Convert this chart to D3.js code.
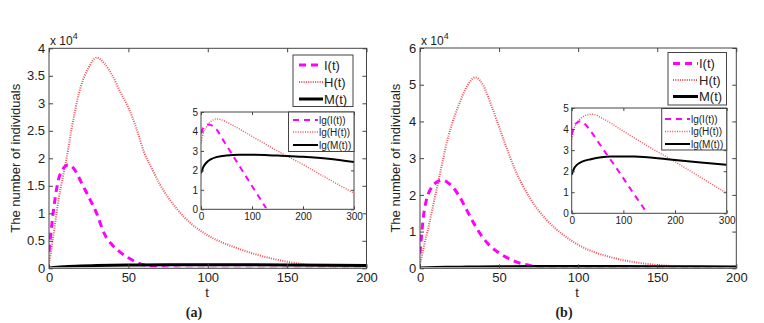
<!DOCTYPE html>
<html>
<head>
<meta charset="utf-8">
<script src="https://cdnjs.cloudflare.com/ajax/libs/d3/7.8.5/d3.min.js"></script>
<style>
  body { margin: 0; background: #fff; }
  svg text { font-family: "Liberation Sans", Arial, sans-serif; fill: #222; }
</style>
</head>
<body>
<svg id="chart" width="764" height="323"></svg>
<script>
/* ---------------------------- Data (x 10^4) ---------------------------- */
const tMain = [0, 1, 2, 3, 4, 5, 6, 8, 10, 12, 14, 16, 18, 20, 25, 30, 35, 40, 45, 50, 55, 60, 65, 70, 80, 90, 100, 120, 140, 160, 180, 200];
const tM = [0, 5, 10, 20, 30, 50, 75, 100, 150, 200];

// panel (a)
const iA = [0.3, 0.6, 0.85, 1.1, 1.3, 1.48, 1.62, 1.76, 1.85, 1.88, 1.86, 1.8, 1.7, 1.58, 1.3, 1.0, 0.62, 0.42, 0.29, 0.19, 0.11, 0.06, 0.03, 0.015, 0.004, 0.001, 0, 0, 0, 0, 0, 0];
const hA = [0.1, 0.25, 0.45, 0.65, 0.85, 1.05, 1.25, 1.55, 1.85, 2.15, 2.5, 2.8, 3.08, 3.3, 3.65, 3.83, 3.72, 3.5, 3.2, 2.92, 2.55, 2.1, 1.8, 1.52, 1.1, 0.8, 0.6, 0.35, 0.18, 0.075, 0.03, 0.01];
const mA = [0.007, 0.021, 0.03, 0.042, 0.05, 0.06, 0.063, 0.064, 0.06, 0.052];

// panel (b)
const iB = [0.4, 0.9, 1.35, 1.65, 1.85, 2.0, 2.1, 2.25, 2.33, 2.38, 2.4, 2.38, 2.32, 2.25, 1.95, 1.55, 1.15, 0.82, 0.58, 0.42, 0.29, 0.19, 0.12, 0.07, 0.025, 0.008, 0.002, 0, 0, 0, 0, 0];
const hB = [0.1, 0.3, 0.5, 0.7, 0.88, 1.05, 1.25, 1.65, 2.05, 2.45, 2.85, 3.25, 3.6, 3.9, 4.5, 4.98, 5.2, 4.98, 4.45, 3.85, 3.25, 2.7, 2.25, 1.88, 1.32, 0.93, 0.64, 0.31, 0.14, 0.06, 0.025, 0.01];
const mB = [0.007, 0.015, 0.02, 0.028, 0.034, 0.043, 0.05, 0.05, 0.045, 0.038];

// insets: lg of each series
const tLgIA = [0, 3, 6, 10, 15, 20, 25, 30, 40, 60, 80, 100, 120, 129];
const lgIA = [3.9, 4.12, 4.25, 4.32, 4.36, 4.33, 4.24, 4.12, 3.7, 2.87, 2.03, 1.2, 0.37, 0];
const tLgH = [0, 5, 10, 15, 20, 30, 40, 60, 100, 150, 200, 250, 300];
const lgHA = [3.4, 3.95, 4.2, 4.4, 4.52, 4.65, 4.6, 4.35, 3.75, 3.0, 2.3, 1.55, 0.83];
const tLgMA = [0, 5, 10, 20, 30, 50, 75, 100, 125, 150, 200, 250, 300];
const lgMA = [1.85, 2.2, 2.38, 2.58, 2.68, 2.77, 2.8, 2.8, 2.79, 2.76, 2.7, 2.6, 2.43];

const tLgIB = [0, 5, 10, 17, 25, 37, 60, 88, 120, 143];
const lgIB = [3.73, 4.15, 4.3, 4.37, 4.25, 3.89, 3.07, 2.1, 0.93, 0.12];
const lgHB = [3.5, 4.05, 4.28, 4.45, 4.55, 4.68, 4.7, 4.5, 3.9, 3.15, 2.45, 1.7, 0.95];
const tLgMB = [0, 5, 10, 20, 37, 75, 121, 185, 250, 300];
const lgMB = [1.83, 2.15, 2.3, 2.45, 2.57, 2.7, 2.7, 2.57, 2.41, 2.3];

const xTicksMain = [0, 50, 100, 150, 200];
const yTicksA = [0, 0.5, 1, 1.5, 2, 2.5, 3, 3.5, 4];
const yTicksB = [0, 1, 2, 3, 4, 5, 6];
const xTicksInset = [0, 100, 200, 300];
const yTicksInset = [0, 1, 2, 3, 4, 5];
const mainNames = ['I(t)', 'H(t)', 'M(t)'];
const insetNames = ['lg(I(t))', 'lg(H(t))', 'lg(M(t))'];

/* ---------------------------- Styles ---------------------------- */
const styleI = { stroke: '#ff00ff', width: 3, dash: '7,5' };
const styleH = { stroke: '#f0505a', width: 2, dash: '1,1.3' };
const styleM = { stroke: '#000', width: 3, dash: null };
const insetI = { stroke: '#ff00ff', width: 2, dash: '6,5' };
const insetH = { stroke: '#f0505a', width: 1.4, dash: '1,1.4' };
const insetM = { stroke: '#000', width: 2, dash: null };

const svg = d3.select('#chart');
const defs = svg.append('defs');
let clipId = 0;
const fmt = d => String(d);

function addAxes(g, x, y, xt, yt, box, fontSize, tick) {
    const style = sel => {
        sel.select('.domain').remove();
        sel.selectAll('line').attr('stroke', '#444');
        sel.selectAll('text').style('font-size', fontSize + 'px').attr('fill', '#222');
    };
    g.append('g').attr('transform', `translate(0,${box.bottom})`)
        .call(d3.axisBottom(x).tickValues(xt).tickFormat(fmt).tickSizeInner(-tick).tickSizeOuter(0).tickPadding(fontSize * 0.35)).call(style);
    g.append('g').attr('transform', `translate(0,${box.top})`)
        .call(d3.axisTop(x).tickValues(xt).tickSizeInner(-tick).tickSizeOuter(0).tickFormat('')).call(style);
    g.append('g').attr('transform', `translate(${box.left},0)`)
        .call(d3.axisLeft(y).tickValues(yt).tickFormat(fmt).tickSizeInner(-tick).tickSizeOuter(0).tickPadding(fontSize * 0.3)).call(style);
    g.append('g').attr('transform', `translate(${box.right},0)`)
        .call(d3.axisRight(y).tickValues(yt).tickSizeInner(-tick).tickSizeOuter(0).tickFormat('')).call(style);
    g.append('rect')
        .attr('x', box.left).attr('y', box.top)
        .attr('width', box.right - box.left).attr('height', box.bottom - box.top)
        .attr('fill', 'none').attr('stroke', '#444').attr('stroke-width', 1);
}

function drawCurves(g, x, y, box, list) {
    const id = 'clip' + (clipId++);
    defs.append('clipPath').attr('id', id).append('rect')
        .attr('x', box.left).attr('y', box.top - 2)
        .attr('width', box.right - box.left).attr('height', box.bottom - box.top + 1);
    const cg = g.append('g').attr('clip-path', `url(#${id})`);
    list.forEach(s => {
        const line = d3.line()
            .x((d, i) => x(s.t[i]))
            .y(d => y(d))
            .curve(d3.curveMonotoneX);
        cg.append('path')
            .attr('d', line(s.v))
            .attr('fill', 'none')
            .attr('stroke', s.style.stroke)
            .attr('stroke-width', s.style.width)
            .attr('stroke-dasharray', s.style.dash);
    });
}

function drawLegend(g, lg) {
    g.append('rect')
        .attr('x', lg.left).attr('y', lg.top)
        .attr('width', lg.right - lg.left).attr('height', lg.bottom - lg.top)
        .attr('fill', '#fff').attr('stroke', '#444');
    lg.items.forEach((it, i) => {
        const yy = lg.rows[i];
        g.append('line')
            .attr('x1', lg.lineX[0]).attr('x2', lg.lineX[1])
            .attr('y1', yy).attr('y2', yy)
            .attr('stroke', it.style.stroke)
            .attr('stroke-width', it.style.width)
            .attr('stroke-dasharray', it.style.dash);
        g.append('text')
            .attr('x', lg.lineX[1] + 1).attr('y', yy)
            .attr('dy', '0.35em')
            .style('font-size', lg.font + 'px')
            .text(it.name);
    });
}

function drawPanel(p) {
    const g = svg.append('g');
    const box = p.main;
    const x = d3.scaleLinear().domain([0, 200]).range([box.left, box.right]);
    const y = d3.scaleLinear().domain([0, p.yMax]).range([box.bottom, box.top]);

    drawCurves(g, x, y, box, [
        { t: tMain, v: p.H, style: styleH },
        { t: tMain, v: p.I, style: styleI },
        { t: tM, v: p.M, style: styleM }
    ]);
    addAxes(g, x, y, xTicksMain, p.yTicks, box, 13, 4);

    // x 10^4 multiplier
    const mult = g.append('text').attr('x', box.left + 1).attr('y', box.top - 3).style('font-size', '12px');
    mult.append('tspan').text('x 10');
    mult.append('tspan').attr('dy', -6).style('font-size', '9px').text('4');

    g.append('text')
        .attr('transform', `translate(${p.yTitleX},${(box.top + box.bottom) / 2}) rotate(-90)`)
        .attr('text-anchor', 'middle')
        .style('font-size', '13px')
        .text('The number of individuals');
    g.append('text')
        .attr('x', p.tX).attr('y', 297)
        .attr('text-anchor', 'middle')
        .style('font-size', '13px')
        .text('t');
    g.append('text')
        .attr('x', p.tX - 13).attr('y', 317)
        .attr('text-anchor', 'middle')
        .style('font-size', '14px')
        .style('font-weight', 'bold')
        .style('font-family', '"Liberation Serif", "Times New Roman", serif')
        .text(p.label);

    drawLegend(g, {
        left: p.legend.left, right: p.legend.right, top: p.legend.top, bottom: p.legend.bottom,
        rows: p.legend.rows, lineX: p.legend.lineX, font: 13,
        items: [
            { name: mainNames[0], style: styleI },
            { name: mainNames[1], style: styleH },
            { name: mainNames[2], style: styleM }
        ]
    });

    // inset
    const ib = p.inset;
    g.append('rect')
        .attr('x', ib.left).attr('y', ib.top)
        .attr('width', ib.right - ib.left).attr('height', ib.bottom - ib.top)
        .attr('fill', '#fff');
    const xi = d3.scaleLinear().domain([0, 300]).range([ib.left, ib.right]);
    const yi = d3.scaleLinear().domain([0, 5]).range([ib.bottom, ib.top]);
    drawCurves(g, xi, yi, ib, [
        { t: tLgH, v: p.lgH, style: insetH },
        { t: p.tLgM, v: p.lgM, style: insetM },
        { t: p.tLgI, v: p.lgI, style: insetI }
    ]);
    addAxes(g, xi, yi, xTicksInset, yTicksInset, ib, 10, 3);

    drawLegend(g, {
        left: p.insetLegend.left, right: p.insetLegend.right,
        top: p.insetLegend.top, bottom: p.insetLegend.bottom,
        rows: p.insetLegend.rows, lineX: p.insetLegend.lineX, font: 10,
        items: [
            { name: insetNames[0], style: insetI },
            { name: insetNames[1], style: insetH },
            { name: insetNames[2], style: insetM }
        ]
    });
}

drawPanel({
    label: '(a)', yMax: 4, yTicks: yTicksA, I: iA, H: hA, M: mA,
    main: { left: 49, right: 366.5, top: 48.3, bottom: 268.3 },
    yTitleX: 20, tX: 207,
    legend: { left: 293, right: 353, top: 55, bottom: 106.5, rows: [65, 82, 99], lineX: [299, 323] },
    inset: { left: 201, right: 354, top: 112, bottom: 209.3 },
    insetLegend: { left: 288.5, right: 354, top: 112, bottom: 151.5, rows: [120, 132, 145], lineX: [293, 318] },
    tLgI: tLgIA, lgI: lgIA, lgH: lgHA, tLgM: tLgMA, lgM: lgMA
});

drawPanel({
    label: '(b)', yMax: 6, yTicks: yTicksB, I: iB, H: hB, M: mB,
    main: { left: 420, right: 736.3, top: 48, bottom: 268.3 },
    yTitleX: 400, tX: 577,
    legend: { left: 668, right: 726.5, top: 52.5, bottom: 105, rows: [63.5, 80, 96.5], lineX: [673, 698] },
    inset: { left: 571.7, right: 726.7, top: 108, bottom: 213.3 },
    insetLegend: { left: 661.7, right: 726.7, top: 108.5, bottom: 150, rows: [119, 131.5, 144], lineX: [665, 690] },
    tLgI: tLgIB, lgI: lgIB, lgH: lgHB, tLgM: tLgMB, lgM: lgMB
});
</script>
</body>
</html>
